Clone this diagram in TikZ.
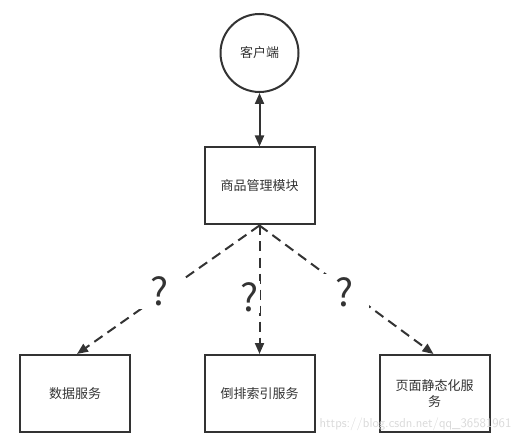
\documentclass[tikz,border=0pt]{standalone}
\usepackage{fontspec}
\setmainfont{Noto Sans CJK SC}
\usetikzlibrary{arrows.meta}
\definecolor{ln}{HTML}{333333}
\begin{document}
\begin{tikzpicture}[x=1pt,y=-1pt,
  box/.style={draw=ln,line width=2pt,minimum width=110pt,minimum height=77pt,inner sep=2pt,font=\fontsize{13}{16}\selectfont,text=ln},
  link/.style={draw=ln,line width=2pt,dash pattern=on 10pt off 6pt,-{Triangle[length=11pt,width=9pt]}},
  qm/.style={fill=white,inner sep=1pt,font=\fontsize{38}{40}\selectfont,text=ln}]
\useasboundingbox (0,0) rectangle (521,443);
\node[draw=ln,line width=2pt,circle,minimum size=78pt,inner sep=0pt,font=\fontsize{13}{16}\selectfont,text=ln] (client) at (259.5,53) {客户端};
\node[box] (mgr) at (259.5,186) {商品管理模块};
\node[box] (data) at (75,393.5) {数据服务};
\node[box] (index) at (259.5,393.5) {倒排索引服务};
\node[box,align=center] (static) at (434.5,393.5) {页面静态化服\\务};
\draw[draw=ln,line width=2pt,{Triangle[length=11pt,width=9pt]}-{Triangle[length=11pt,width=9pt]}] (client) -- (mgr);
\coordinate (o) at (mgr.south);
\coordinate (t1) at ([xshift=2pt]data.north);
\coordinate (t3) at ([xshift=-1pt]static.north);
\draw[link] (o) -- (t1);
\draw[link] (o) -- (index.north);
\draw[link] (o) -- (t3);
\node[qm,minimum width=44pt,minimum height=36pt] (q1) at (160,291) {?};
\node[qm,minimum width=16pt] (q2) at (250,297) {?};
\node[qm,minimum width=50pt,minimum height=36pt] (q3) at (344,292) {?};
\node[text=gray!30,font=\fontsize{13}{15}\selectfont\sffamily,anchor=east] (wm) at (515,424) {https://blog.csdn.net/qq\_36581961};
\end{tikzpicture}
\end{document}
